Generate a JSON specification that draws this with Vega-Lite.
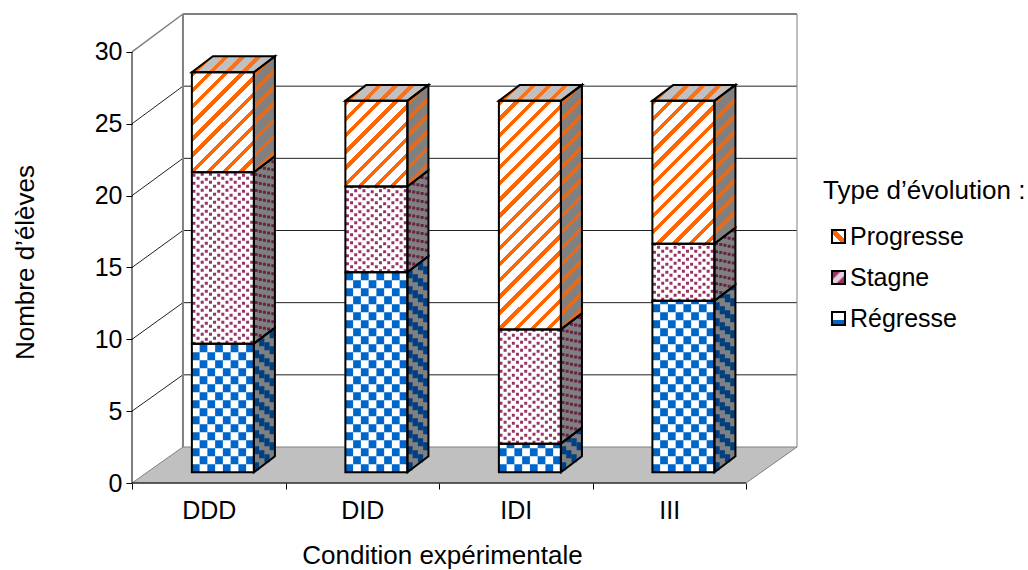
{"$schema":"https://vega.github.io/schema/vega-lite/v6.json","width":665,"height":469,"autosize":{"type":"none"},"padding":{"left":132,"top":14,"right":231,"bottom":87},"background":"white","config":{"font":"Liberation Sans","view":{"stroke":null}},"resolve":{"axis":{"x":"independent","y":"independent"}},
"datasets":{"one":[{}],"levels":[{"k":0},{"k":5},{"k":10},{"k":15},{"k":20},{"k":25},{"k":30}],"depth":[{"p":0},{"p":1}]},
"params":[{"name":"g1","value":{"gradient":"linear","x1":0,"y1":1,"x2":1,"y2":0,"stops":[{"offset":0,"color":"#ffffff"},{"offset":0.35,"color":"#ffffff"},{"offset":0.35,"color":"#ff6600"},{"offset":0.65,"color":"#ff6600"},{"offset":0.65,"color":"#ffffff"},{"offset":1,"color":"#ffffff"}]}},{"name":"g2","value":{"gradient":"linear","x1":0,"y1":0,"x2":1,"y2":1,"stops":[{"offset":0,"color":"#993366"},{"offset":0.3,"color":"#993366"},{"offset":0.4,"color":"#e8d0dc"},{"offset":0.6,"color":"#e8d0dc"},{"offset":0.7,"color":"#993366"},{"offset":1,"color":"#993366"}]}},{"name":"g3","value":{"gradient":"linear","x1":0,"y1":0,"x2":0,"y2":1,"stops":[{"offset":0,"color":"#ffffff"},{"offset":0.6,"color":"#ffffff"},{"offset":0.6,"color":"#0066cc"},{"offset":1,"color":"#0066cc"}]}},{"name":"stripes","value":[{"offset":0,"color":"#ff6600"},{"offset":0.0185,"color":"#ff6600"},{"offset":0.0185,"color":"#ff660000"},{"offset":0.0556,"color":"#ff660000"},{"offset":0.0556,"color":"#ff6600"},{"offset":0.0741,"color":"#ff6600"},{"offset":0.0741,"color":"#ff660000"},{"offset":0.1111,"color":"#ff660000"},{"offset":0.1111,"color":"#ff6600"},{"offset":0.1296,"color":"#ff6600"},{"offset":0.1296,"color":"#ff660000"},{"offset":0.1667,"color":"#ff660000"},{"offset":0.1667,"color":"#ff6600"},{"offset":0.1852,"color":"#ff6600"},{"offset":0.1852,"color":"#ff660000"},{"offset":0.2222,"color":"#ff660000"},{"offset":0.2222,"color":"#ff6600"},{"offset":0.2407,"color":"#ff6600"},{"offset":0.2407,"color":"#ff660000"},{"offset":0.2778,"color":"#ff660000"},{"offset":0.2778,"color":"#ff6600"},{"offset":0.2963,"color":"#ff6600"},{"offset":0.2963,"color":"#ff660000"},{"offset":0.3333,"color":"#ff660000"},{"offset":0.3333,"color":"#ff6600"},{"offset":0.3518,"color":"#ff6600"},{"offset":0.3518,"color":"#ff660000"},{"offset":0.3889,"color":"#ff660000"},{"offset":0.3889,"color":"#ff6600"},{"offset":0.4074,"color":"#ff6600"},{"offset":0.4074,"color":"#ff660000"},{"offset":0.4444,"color":"#ff660000"},{"offset":0.4444,"color":"#ff6600"},{"offset":0.4629,"color":"#ff6600"},{"offset":0.4629,"color":"#ff660000"},{"offset":0.5,"color":"#ff660000"},{"offset":0.5,"color":"#ff6600"},{"offset":0.5185,"color":"#ff6600"},{"offset":0.5185,"color":"#ff660000"},{"offset":0.5556,"color":"#ff660000"},{"offset":0.5556,"color":"#ff6600"},{"offset":0.5741,"color":"#ff6600"},{"offset":0.5741,"color":"#ff660000"},{"offset":0.6111,"color":"#ff660000"},{"offset":0.6111,"color":"#ff6600"},{"offset":0.6296,"color":"#ff6600"},{"offset":0.6296,"color":"#ff660000"},{"offset":0.6667,"color":"#ff660000"},{"offset":0.6667,"color":"#ff6600"},{"offset":0.6852,"color":"#ff6600"},{"offset":0.6852,"color":"#ff660000"},{"offset":0.7222,"color":"#ff660000"},{"offset":0.7222,"color":"#ff6600"},{"offset":0.7407,"color":"#ff6600"},{"offset":0.7407,"color":"#ff660000"},{"offset":0.7778,"color":"#ff660000"},{"offset":0.7778,"color":"#ff6600"},{"offset":0.7963,"color":"#ff6600"},{"offset":0.7963,"color":"#ff660000"},{"offset":0.8333,"color":"#ff660000"},{"offset":0.8333,"color":"#ff6600"},{"offset":0.8518,"color":"#ff6600"},{"offset":0.8518,"color":"#ff660000"},{"offset":0.8889,"color":"#ff660000"},{"offset":0.8889,"color":"#ff6600"},{"offset":0.9074,"color":"#ff6600"},{"offset":0.9074,"color":"#ff660000"},{"offset":0.9444,"color":"#ff660000"},{"offset":0.9444,"color":"#ff6600"},{"offset":0.9629,"color":"#ff6600"},{"offset":0.9629,"color":"#ff660000"},{"offset":1,"color":"#ff660000"}]}],
"layer":[
{"data":{"name":"depth"},"transform":[{"calculate":"datum.p*0.332","as":"fx"},{"calculate":"4+datum.p*0.332","as":"fx2"},{"calculate":"datum.p*2.505","as":"fy"}],"mark":{"type":"area","orient":"horizontal","fill":"#C0C0C0","stroke":"#808080","strokeWidth":1},"encoding":{"x":{"field":"fx","type":"quantitative","scale":{"domain":[0,4.332],"nice":false,"zero":false},"axis":{"title":"Condition expérimentale","values":[0,0.5,1,1.5,2,2.5,3,3.5,4],"labelExpr":"datum.value==0.5?'DDD':datum.value==1.5?'DID':datum.value==2.5?'IDI':datum.value==3.5?'III':''","labelOverlap":false,"labelFlush":false,"domain":false,"grid":false,"ticks":true,"tickColor":"black","tickSize":6,"tickOpacity":{"condition":{"test":"datum.value%1==0","value":1},"value":0},"labelFontSize":25,"labelColor":"black","labelPadding":9,"titleFontSize":26,"titleFontWeight":"normal","titleColor":"black","titleX":310,"titleY":59}},"x2":{"field":"fx2"},"y":{"field":"fy","type":"quantitative","scale":{"domain":[0,32.64],"nice":false,"zero":false},"axis":{"title":"Nombre d’élèves","values":[0,5,10,15,20,25,30],"domain":false,"grid":false,"tickColor":"black","tickSize":6,"labelFontSize":25,"labelColor":"black","labelPadding":4,"titleFontSize":26,"titleFontWeight":"normal","titleColor":"black","titleX":-94,"titleY":248}}}},
{"data":{"name":"levels"},"transform":[{"filter":"datum.k>0 && datum.k<30"},{"calculate":"2.505+datum.k*1.0045","as":"wy"}],"mark":{"type":"rule","color":"#222222","strokeWidth":1},"encoding":{"x":{"datum":0.332,"axis":null},"x2":{"datum":4.332},"y":{"field":"wy","type":"quantitative","axis":null}}},
{"data":{"name":"levels"},"transform":[{"filter":"datum.k>0 && datum.k<30"},{"calculate":"2.505+datum.k*1.0045","as":"wy"}],"mark":{"type":"rule","color":"#222222","strokeWidth":1},"encoding":{"x":{"datum":0,"axis":null},"x2":{"datum":0.332},"y":{"field":"k","type":"quantitative","axis":null},"y2":{"field":"wy"}}},
{"data":{"name":"one"},"mark":{"type":"rule","color":"#808080","strokeWidth":2},"encoding":{"x":{"datum":0.332,"axis":null},"x2":{"datum":4.332},"y":{"datum":32.64,"axis":null}}},
{"data":{"name":"one"},"mark":{"type":"rule","color":"#808080","strokeWidth":2},"encoding":{"x":{"datum":0.332,"axis":null},"y":{"datum":2.505,"axis":null},"y2":{"datum":32.64}}},
{"data":{"name":"one"},"mark":{"type":"rule","color":"#808080","strokeWidth":1},"encoding":{"x":{"datum":4.332,"axis":null},"y":{"datum":2.505,"axis":null},"y2":{"datum":32.64}}},
{"data":{"name":"one"},"mark":{"type":"rule","color":"#808080","strokeWidth":1.5},"encoding":{"x":{"datum":0,"axis":null},"x2":{"datum":0.332},"y":{"datum":30,"axis":null},"y2":{"datum":32.64}}},
{"data":{"name":"one"},"mark":{"type":"rule","color":"black","strokeWidth":1},"encoding":{"x":{"datum":0,"axis":null},"x2":{"datum":4},"y":{"datum":0,"axis":null}}},
{"data":{"name":"one"},"mark":{"type":"rule","color":"black","strokeWidth":1},"encoding":{"x":{"datum":0,"axis":null},"y":{"datum":0,"axis":null},"y2":{"datum":30}}},
{"data":{"values":[{"condition":"DDD","type":"Régresse","value":9},{"condition":"DDD","type":"Stagne","value":12},{"condition":"DDD","type":"Progresse","value":7},{"condition":"DID","type":"Régresse","value":14},{"condition":"DID","type":"Stagne","value":6},{"condition":"DID","type":"Progresse","value":6},{"condition":"IDI","type":"Régresse","value":2},{"condition":"IDI","type":"Stagne","value":8},{"condition":"IDI","type":"Progresse","value":16},{"condition":"III","type":"Régresse","value":12},{"condition":"III","type":"Stagne","value":4},{"condition":"III","type":"Progresse","value":10}]},
"transform":[{"calculate":"indexof(['Régresse','Stagne','Progresse'],datum.type)","as":"rank"},{"stack":"value","groupby":["condition"],"sort":[{"field":"rank","order":"ascending"}],"as":["v0","v1"]},{"calculate":"indexof(['DDD','DID','IDI','III'],datum.condition)+0.39","as":"l"},{"calculate":"datum.l+0.404","as":"r"},{"calculate":"datum.v0*0.994+0.75","as":"yb"},{"calculate":"datum.v1*0.994+0.75","as":"yt"},{"calculate":"datum.value*14.29","as":"h"},{"calculate":"datum.h+16","as":"hs"}],
"layer":[
{"mark":{"type":"rect"},"encoding":{"x":{"field":"l","type":"quantitative","axis":null},"x2":{"field":"r"},"y":{"field":"yb","type":"quantitative","axis":null},"y2":{"field":"yt"},"fill":{"field":"type","type":"nominal","scale":{"domain":["Progresse","Stagne","Régresse"],"range":[{"expr":"g1"},{"expr":"g2"},{"expr":"g3"}]},"legend":{"orient":"none","legendX":691,"legendY":164,"title":"Type d’évolution :","titleFontSize":26,"titleLimit":300,"titleFontWeight":"normal","titleColor":"black","titlePadding":20,"labelFontSize":25,"labelColor":"black","labelLimit":200,"rowPadding":15,"symbolType":"square","symbolSize":170,"symbolStrokeColor":"black","symbolStrokeWidth":2,"symbolOffset":3,"labelOffset":-1,"values":["Progresse","Stagne","Régresse"]}}}},
{"mark":{"type":"rect","fill":"white"},"encoding":{"x":{"field":"l","type":"quantitative","axis":null},"x2":{"field":"r"},"y":{"field":"yb","type":"quantitative","axis":null},"y2":{"field":"yt"}}},
{"transform":[{"calculate":"[0,1]","as":"pts"},{"flatten":["pts"]},{"calculate":"datum.r+datum.pts*0.137","as":"sx"},{"calculate":"datum.yb+datum.pts*1.113","as":"sb"},{"calculate":"datum.yt+datum.pts*1.113","as":"st"}],"layer":[
{"mark":{"type":"area","fill":"#808080"},"encoding":{"x":{"field":"sx","type":"quantitative","axis":null},"y":{"field":"st","type":"quantitative","axis":null,"stack":null},"y2":{"field":"sb"},"detail":[{"field":"condition"},{"field":"type"}]}},
{"transform":[{"filter":"datum.type=='Progresse'"}],"mark":{"type":"area","opacity":0.75,"fill":{"expr":"{gradient:'linear',x1:0,y1:0,x2:291*21/(441+datum.hs*datum.hs),y2:291*datum.hs/(441+datum.hs*datum.hs),stops:stripes}"}},"encoding":{"x":{"field":"sx","type":"quantitative","axis":null},"y":{"field":"st","type":"quantitative","axis":null,"stack":null},"y2":{"field":"sb"},"detail":[{"field":"condition"},{"field":"type"}]}}]},
{"transform":[{"filter":"datum.type=='Progresse'"},{"calculate":"[0,1]","as":"pts"},{"flatten":["pts"]},{"calculate":"datum.l+datum.pts*0.137","as":"tx"},{"calculate":"datum.r+datum.pts*0.137","as":"tx2"},{"calculate":"datum.yt+datum.pts*1.113","as":"ty"}],"layer":[
{"mark":{"type":"area","orient":"horizontal","fill":"#C0C0C0"},"encoding":{"x":{"field":"tx","type":"quantitative","axis":null,"stack":null},"x2":{"field":"tx2"},"y":{"field":"ty","type":"quantitative","axis":null},"detail":{"field":"condition"}}},
{"mark":{"type":"area","orient":"horizontal","opacity":0.85,"fill":{"expr":"{gradient:'linear',x1:0,y1:0,x2:3.38,y2:0.65,stops:stripes}"}},"encoding":{"x":{"field":"tx","type":"quantitative","axis":null,"stack":null},"x2":{"field":"tx2"},"y":{"field":"ty","type":"quantitative","axis":null},"detail":{"field":"condition"}}}]},
{"transform":[{"filter":"datum.type=='Progresse'"}],"mark":{"type":"rect","fill":{"expr":"{gradient:'linear',x1:0,y1:0,x2:291*62/(3844+datum.h*datum.h),y2:291*datum.h/(3844+datum.h*datum.h),stops:stripes}"}},"encoding":{"x":{"field":"l","type":"quantitative","axis":null},"x2":{"field":"r"},"y":{"field":"yb","type":"quantitative","axis":null},"y2":{"field":"yt"}}},
{"transform":[{"filter":"datum.type=='Régresse'"},{"calculate":"[0,1,2,3,4,5,6,7]","as":"col"},{"flatten":["col"]},{"calculate":"datum.l+(datum.col+0.5)*0.0505","as":"cx"}],"mark":{"type":"rule","color":"#0066cc","strokeWidth":7.75,"strokeDash":[8,8],"strokeDashOffset":{"expr":"(datum.col%2)*8"}},"encoding":{"x":{"field":"cx","type":"quantitative","axis":null},"y":{"field":"yb","type":"quantitative","axis":null},"y2":{"field":"yt"}}},
{"transform":[{"filter":"datum.type=='Régresse'"},{"calculate":"[0,1,2,3]","as":"col"},{"flatten":["col"]},{"calculate":"datum.r+(datum.col+0.5)*0.0342","as":"cx"},{"calculate":"datum.yb+(datum.col+0.5)*0.278","as":"cb"},{"calculate":"datum.yt+(datum.col+0.5)*0.278","as":"ct"}],"mark":{"type":"rule","color":"#004080","strokeWidth":5.25,"strokeDash":[8,8],"strokeDashOffset":{"expr":"(datum.col%2)*8"}},"encoding":{"x":{"field":"cx","type":"quantitative","axis":null},"y":{"field":"cb","type":"quantitative","axis":null},"y2":{"field":"ct"}}},
{"transform":[{"filter":"datum.type=='Stagne'"},{"calculate":"[0,1,2,3,4,5,6,7,8,9,10,11,12,13,14]","as":"col"},{"flatten":["col"]},{"calculate":"datum.l+(datum.col+0.5)*0.0269","as":"cx"}],"mark":{"type":"rule","color":"#993366","strokeWidth":3,"strokeDash":[3,5],"strokeDashOffset":{"expr":"(datum.col%2)*4+((datum.col%3)==0?1:0)"}},"encoding":{"x":{"field":"cx","type":"quantitative","axis":null},"y":{"field":"yb","type":"quantitative","axis":null},"y2":{"field":"yt"}}},
{"transform":[{"filter":"datum.type=='Stagne'"},{"calculate":"[0,1,2,3,4]","as":"col"},{"flatten":["col"]},{"calculate":"datum.r+(datum.col+0.5)*0.0274","as":"cx"},{"calculate":"datum.yb+(datum.col+0.5)*0.2226","as":"cb"},{"calculate":"datum.yt+(datum.col+0.5)*0.2226","as":"ct"}],"mark":{"type":"rule","color":"#662244","strokeWidth":3,"strokeDash":[3,5],"strokeDashOffset":{"expr":"(datum.col%2)*4+2"}},"encoding":{"x":{"field":"cx","type":"quantitative","axis":null},"y":{"field":"cb","type":"quantitative","axis":null},"y2":{"field":"ct"}}},
{"mark":{"type":"rect","fill":"transparent","stroke":"black","strokeWidth":2},"encoding":{"x":{"field":"l","type":"quantitative","axis":null},"x2":{"field":"r"},"y":{"field":"yb","type":"quantitative","axis":null},"y2":{"field":"yt"}}},
{"transform":[{"calculate":"[0,1]","as":"pts"},{"flatten":["pts"]},{"calculate":"datum.r+datum.pts*0.137","as":"sx"},{"calculate":"datum.yb+datum.pts*1.113","as":"sb"},{"calculate":"datum.yt+datum.pts*1.113","as":"st"}],"mark":{"type":"area","fill":"transparent","stroke":"black","strokeWidth":2},"encoding":{"x":{"field":"sx","type":"quantitative","axis":null},"y":{"field":"st","type":"quantitative","axis":null,"stack":null},"y2":{"field":"sb"},"detail":[{"field":"condition"},{"field":"type"}]}},
{"transform":[{"filter":"datum.type=='Progresse'"},{"calculate":"[0,1]","as":"pts"},{"flatten":["pts"]},{"calculate":"datum.l+datum.pts*0.137","as":"tx"},{"calculate":"datum.r+datum.pts*0.137","as":"tx2"},{"calculate":"datum.yt+datum.pts*1.113","as":"ty"}],"mark":{"type":"area","orient":"horizontal","fill":"transparent","stroke":"black","strokeWidth":2},"encoding":{"x":{"field":"tx","type":"quantitative","axis":null,"stack":null},"x2":{"field":"tx2"},"y":{"field":"ty","type":"quantitative","axis":null},"detail":{"field":"condition"}}}
]}
]}
